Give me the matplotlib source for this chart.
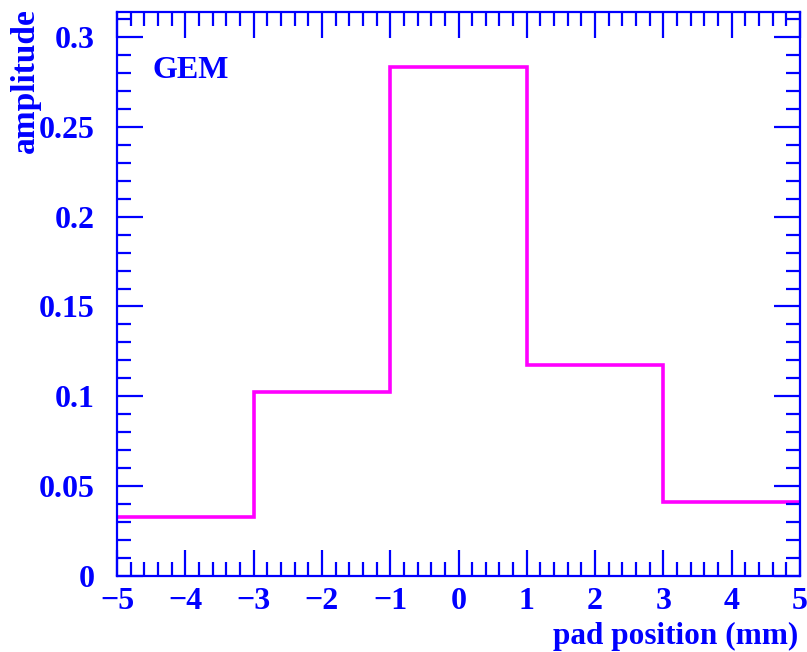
import numpy as np
import matplotlib
matplotlib.use("Agg")
import matplotlib.pyplot as plt
from matplotlib.ticker import MultipleLocator

# pad response histogram (bin edges in mm, amplitude per pad)
bin_edges = [-5, -3, -1, 1, 3, 5]
amplitude = [0.033, 0.1024, 0.2833, 0.1174, 0.0413]
x_ticks = [-5, -4, -3, -2, -1, 0, 1, 2, 3, 4, 5]
y_ticks = [0, 0.05, 0.1, 0.15, 0.2, 0.25, 0.3]
y_tick_labels = ["0", "0.05", "0.1", "0.15", "0.2", "0.25", "0.3"]

blue = "#0000ff"
magenta = "#ff00ff"

plt.rcParams["font.family"] = ["Liberation Serif", "DejaVu Serif"]
plt.rcParams["font.weight"] = "bold"

fig = plt.figure(figsize=(8.07, 6.52), dpi=100)
ax = fig.add_axes([117 / 807, 1 - 576 / 652, 683 / 807, 564 / 652])

ax.stairs(amplitude, bin_edges, color=magenta, linewidth=2.6, baseline=None)

ax.set_xlim(-5, 5)
ax.set_ylim(0, 0.3139)

ax.set_xticks(x_ticks)
ax.set_xticklabels([str(t).replace("-", "\u2212") for t in x_ticks])
ax.set_yticks(y_ticks)
ax.set_yticklabels(y_tick_labels)
ax.xaxis.set_minor_locator(MultipleLocator(0.2))
ax.yaxis.set_minor_locator(MultipleLocator(0.01))

for side in ax.spines.values():
    side.set_color(blue)
    side.set_linewidth(1.6)

ax.tick_params(which="both", direction="in", color=blue, width=1.6,
               top=True, right=True, labelcolor=blue, labelsize=23)
ax.tick_params(which="major", length=19)
ax.tick_params(which="minor", length=10)
ax.tick_params(axis="x", pad=8)
ax.tick_params(axis="y", pad=16)

for lbl in ax.get_xticklabels() + ax.get_yticklabels():
    lbl.set_fontweight("bold")

fig.text(798 / 807, 1 - 636 / 652, "pad position (mm)", color=blue,
         fontsize=22.5, fontweight="bold", ha="right", va="center")
fig.text(25 / 807, 1 - 8 / 652, "amplitude", color=blue, fontsize=24,
         fontweight="bold", rotation=90, ha="center", va="top")
ax.text(152 / 807, 1 - 71 / 652, "GEM", color=blue, fontsize=23,
        fontweight="bold", ha="left", va="center", transform=fig.transFigure)

fig.savefig("out.png", dpi=100)
